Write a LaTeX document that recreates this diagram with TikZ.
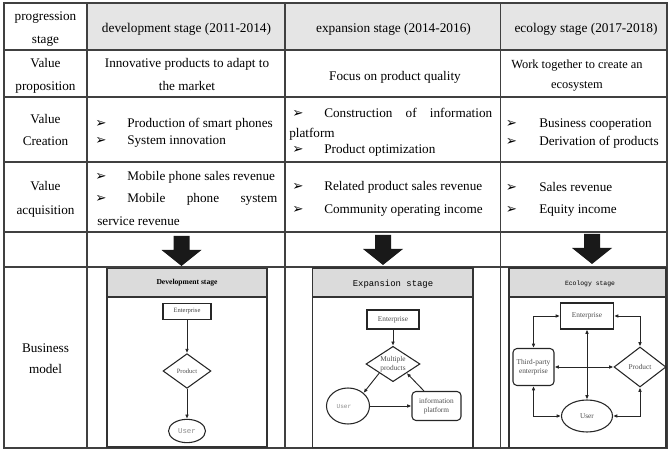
\documentclass[tikz,border=0pt]{standalone}
\usepackage{fontspec}
\setmainfont{Liberation Serif}
\newfontfamily\monof{Liberation Mono}
\newfontfamily\dejavu{DejaVu Sans}
\usetikzlibrary{shapes.geometric,arrows.meta,calc}
\tikzset{
  tline/.style={draw=black!75, line width=0.8pt},
  cell/.style={font=\fontsize{9.9}{11}\selectfont, inner sep=0pt, anchor=base, yshift=-1.1pt},
  hcell/.style={font=\fontsize{10}{11}\selectfont, inner sep=0pt, anchor=base, yshift=-1.1pt},
  lcell/.style={cell, anchor=base west},
  bul/.style={font=\dejavu\fontsize{10}{11}\selectfont, inner sep=0pt, anchor=base, yshift=-0.9pt},
  frame/.style={draw=black!80, line width=1pt},
  band/.style={fill=black!14, draw=black!80, line width=1pt},
  sbox/.style={draw=black!85, line width=0.8pt, inner sep=0pt},
  con/.style={draw=black!85, line width=0.7pt, -{Latex[length=3.2pt,width=2.8pt]}},
  bicon/.style={draw=black!85, line width=0.7pt, {Latex[length=3.2pt,width=2.8pt]}-{Latex[length=3.2pt,width=2.8pt]}},
  small/.style={font=\fontsize{5.5}{6.6}\selectfont, text=black!70, inner sep=0pt, align=center},
  usertxt/.style={font=\monof\fontsize{5.6}{6}\selectfont, text=black!45, inner sep=0pt},
  bigarr/.pic={\fill[black!90] (-8,0) -- (8,0) -- (8,14) -- (20,14) -- (0,30) -- (-20,14) -- (-8,14) -- cycle;}
}
\begin{document}
\begin{tikzpicture}[x=0.75pt,y=-0.75pt]
\useasboundingbox (0,0) rectangle (669,449);
% header shading
\fill[black!10] (87,3) rectangle (667,50);
% table lines
\draw[tline] (4,3) rectangle (667,448);
\foreach \yy in {50,97,162,232,267} \draw[tline] (4,\yy) -- (667,\yy);
\foreach \xx in {87,285,500.5} \draw[tline] (\xx,3) -- (\xx,448);

% column 1
\node[cell] (c1a) at (45.5,19) {progression};
\node[cell] (c1b) at (45.5,42) {stage};
\node[cell] (c2a) at (45.5,66) {Value};
\node[cell] (c2b) at (45.5,89) {proposition};
\node[cell] (c3a) at (45.5,122) {Value};
\node[cell] (c3b) at (45.5,144) {Creation};
\node[cell] (c4a) at (45.5,189) {Value};
\node[cell] (c4b) at (45.5,213) {acquisition};
\node[cell] (c6a) at (45.5,351) {Business};
\node[cell] (c6b) at (45.5,372) {model};

% headers
\node[hcell] (h2) at (186.5,31) {development stage (2011-2014)};
\node[hcell] (h3) at (393.5,31) {expansion stage (2014-2016)};
\node[hcell] (h4) at (586,31) {ecology stage (2017-2018)};

% row 2
\node[cell] (r2a) at (187,66) {Innovative products to adapt to};
\node[cell] (r2b) at (187,89) {the market};
\node[cell] (r2c) at (395,79) {Focus on product quality};
\node[cell, font=\fontsize{9.3}{11}\selectfont] (r2d) at (577,67) {Work together to create an};
\node[cell, font=\fontsize{9.3}{11}\selectfont] (r2e) at (577,87) {ecosystem};

% row 3
\node[bul] (b31) at (101,126) {➢};
\node[lcell] (r3a) at (127,126) {Production of smart phones};
\node[bul] (b32) at (101,143) {➢};
\node[lcell] (r3b) at (127,143) {System innovation};
\node[bul] (b33) at (298,116) {➢};
\node[lcell] (r3c) at (324,116) {\makebox[126pt][s]{Construction of information}};
\node[lcell] (r3d) at (289,136) {platform};
\node[bul] (b34) at (298,152) {➢};
\node[lcell] (r3e) at (324,152) {Product optimization};
\node[bul] (b35) at (511.5,126) {➢};
\node[lcell] (r3f) at (539,126) {Business cooperation};
\node[bul] (b36) at (511.5,144) {➢};
\node[lcell] (r3g) at (539,144) {Derivation of products};

% row 4
\node[bul] (b41) at (101,179) {➢};
\node[lcell] (r4a) at (127,179) {Mobile phone sales revenue};
\node[bul] (b42) at (101,201) {➢};
\node[lcell] (r4b) at (127,201) {\makebox[112.5pt][s]{Mobile phone system}};
\node[lcell] (r4c) at (97,224) {service revenue};
\node[bul] (b43) at (298,189) {➢};
\node[lcell] (r4d) at (324,189) {Related product sales revenue};
\node[bul] (b44) at (298,212) {➢};
\node[lcell] (r4e) at (324,212) {Community operating income};
\node[bul] (b45) at (511.5,190) {➢};
\node[lcell] (r4f) at (539,190) {Sales revenue};
\node[bul] (b46) at (511.5,212) {➢};
\node[lcell] (r4g) at (539,212) {Equity income};

% big arrows
\pic at (181.5,236) {bigarr};
\pic at (383,235) {bigarr};
\pic at (592,234) {bigarr};

% ---- development box
\draw[frame] (107,268.5) rectangle (267,447);
\draw[band] (107,268.5) rectangle (267,297);
\node[font=\bfseries\fontsize{5.7}{6}\selectfont, inner sep=0pt] (dt) at (187,283) {Development stage};
\node[sbox, rectangle, minimum width=36pt, minimum height=11.5pt, font=\fontsize{4.9}{5}\selectfont, text=black!75] (de) at (187,311.5) {Enterprise};
\node[sbox, diamond, minimum width=36pt, minimum height=26pt] (dp) at (187,371) {};
\node[small, font=\fontsize{4.9}{5}\selectfont] (dpt) at (dp) {Product};
\node[sbox, ellipse, minimum width=27.75pt, minimum height=17.5pt] (du) at (187,431) {};
\node[usertxt] (dut) at (du) {User};
\draw[con] (de) -- (dp);
\draw[con] (dp) -- (du);

% ---- expansion box
\draw[frame] (312.5,268) rectangle (473,447.5);
\draw[band] (312.5,268) rectangle (473,297);
\node[font=\monof\fontsize{6.7}{7}\selectfont, inner sep=0pt] (et) at (393,284) {Expansion stage};
\node[sbox, rectangle, minimum width=39pt, minimum height=14.25pt, small] (ee) at (393,319.5) {Enterprise};
\node[sbox, diamond, minimum width=40.5pt, minimum height=26.5pt] (mp) at (393,364) {};
\node[small] (mpt) at (393,364) {Multiple\\products};
\node[sbox, ellipse, minimum width=32.25pt, minimum height=27pt] (eu) at (348,406) {};
\node[usertxt, font=\monof\fontsize{4.6}{5}\selectfont] (eut) at (344,407) {User};
\node[sbox, rectangle, rounded corners=3pt, minimum width=36.75pt, minimum height=21.75pt] (ei) at (436.5,406) {};
\node[small] (eit) at (ei) {information\\platform};
\draw[con] (ee) -- (mp);
\draw[con] (mp.south west) -- (eu.north east);
\draw[con] (eu) -- (ei);
\draw[con] ($(ei.north west)!0.25!(ei.north east)$) -- (mp.south east);

% ---- ecology box
\draw[frame] (509,268) rectangle (666,447.5);
\draw[band] (509,268) rectangle (666,297);
\node[font=\monof\fontsize{4.8}{5}\selectfont, inner sep=0pt] (ot0) at (590,284) {Ecology stage};
\node[sbox, rectangle, minimum width=39.75pt, minimum height=19.5pt, small] (oe) at (587,316) {Enterprise};
\node[sbox, rectangle, rounded corners=3pt, minimum width=30.75pt, minimum height=27.75pt] (ot) at (533.5,367) {};
\node[small] (ott) at (ot) {Third-party\\enterprise};
\node[sbox, diamond, minimum width=39pt, minimum height=30pt] (op) at (640,367) {};
\node[small] (opt) at (op) {Product};
\node[sbox, ellipse, minimum width=38.25pt, minimum height=24pt] (ou) at (587,416) {};
\node[small] (out) at (ou) {User};
\draw[bicon] (oe.west) -| (ot.north);
\draw[bicon] (oe.east) -| (op.north);
\draw[bicon] (oe.south) -- (ou.north);
\draw[bicon] (ot.east) -- (op.west);
\draw[bicon] (ot.south) |- (ou.west);
\draw[bicon] (op.south) |- (ou.east);
\end{tikzpicture}
\end{document}
